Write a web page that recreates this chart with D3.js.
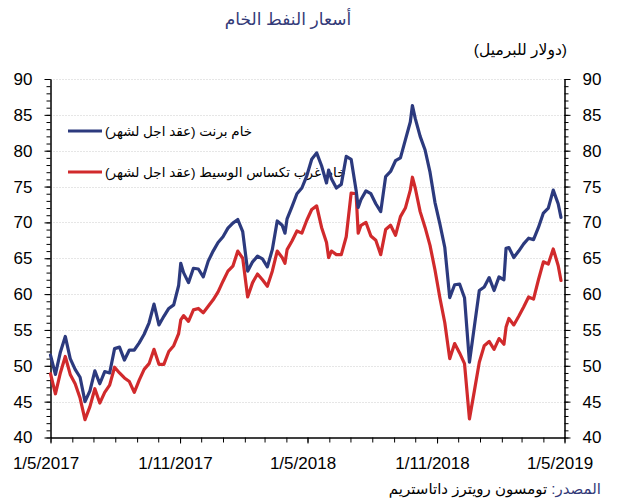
<!DOCTYPE html>
<html><head><meta charset="utf-8">
<script src="https://cdn.jsdelivr.net/npm/d3@7"></script>
<style>
body{margin:0;background:#fff}
svg{display:block}
text{font-family:"Liberation Sans",Arial,"DejaVu Sans",sans-serif}
</style>
</head><body><svg id="c" width="617" height="500"></svg>
<script>
// ---------- data ----------
const dates = [
"2017-05-01","2017-05-08","2017-05-15","2017-05-22","2017-05-29","2017-06-05","2017-06-12","2017-06-19","2017-06-26","2017-07-03",
"2017-07-10","2017-07-17","2017-07-24","2017-07-31","2017-08-07","2017-08-14","2017-08-21","2017-08-28","2017-09-04","2017-09-11",
"2017-09-18","2017-09-25","2017-10-02","2017-10-09","2017-10-16","2017-10-23","2017-10-30","2017-11-02","2017-11-06","2017-11-13","2017-11-20",
"2017-11-27","2017-12-04","2017-12-11","2017-12-18","2017-12-25","2018-01-01","2018-01-08","2018-01-15","2018-01-22","2018-01-29",
"2018-02-05","2018-02-12","2018-02-19","2018-02-26","2018-03-05","2018-03-12","2018-03-19","2018-03-26","2018-03-30","2018-04-02","2018-04-09",
"2018-04-16","2018-04-23","2018-04-30","2018-05-07","2018-05-14","2018-05-21","2018-05-28","2018-05-31","2018-06-04","2018-06-11","2018-06-18",
"2018-06-25","2018-07-02","2018-07-09","2018-07-12","2018-07-16","2018-07-23","2018-07-30","2018-08-06","2018-08-13","2018-08-20","2018-08-27",
"2018-09-03","2018-09-10","2018-09-17","2018-09-24",
"2018-09-27",
"2018-10-01","2018-10-08","2018-10-15","2018-10-22","2018-10-29","2018-11-05","2018-11-12","2018-11-19","2018-11-26","2018-12-03",
"2018-12-10","2018-12-17","2018-12-24","2018-12-31","2019-01-07","2019-01-14","2019-01-21","2019-01-28","2019-02-04","2019-02-07","2019-02-11",
"2019-02-18","2019-02-25","2019-03-04","2019-03-11","2019-03-18","2019-03-25","2019-04-01","2019-04-08","2019-04-15","2019-04-22",
"2019-04-26"
];
const brent = [
51.5,48.8,51.9,54.1,51.0,49.5,48.4,45.0,46.5,49.3,
47.5,49.2,49.0,52.4,52.6,50.8,52.2,52.2,53.2,54.4,
56.0,58.6,55.7,56.9,58.0,58.5,61.2,64.3,63.0,61.6,63.6,
63.5,62.4,64.6,66.0,67.2,68.0,69.2,69.9,70.4,68.7,
63.2,64.5,65.3,64.9,63.8,66.2,70.2,69.6,68.5,70.5,72.2,
74.0,74.8,76.5,78.8,79.7,77.9,75.5,77.3,76.1,74.8,75.3,
79.2,78.8,74.5,72.1,73.2,74.4,74.0,72.6,71.5,76.4,77.1,
78.6,79.0,81.5,84.0,
86.3,
84.5,82.0,80.1,77.0,72.8,69.8,66.5,59.5,61.3,61.4,
59.5,50.5,55.5,60.5,61.0,62.3,60.5,62.4,62.0,66.4,66.5,
65.1,66.0,67.0,67.8,67.6,69.3,71.3,72.0,74.5,72.6,
70.7
];
const wti = [
48.9,46.1,49.0,51.3,48.8,47.5,45.5,42.5,44.3,46.8,
44.8,46.3,47.3,49.8,49.0,48.3,47.8,46.3,48.0,49.5,
50.3,52.3,50.2,50.2,52.0,52.8,54.5,56.4,57.0,56.2,57.8,
58.0,57.4,58.3,59.2,60.3,61.8,63.2,63.9,66.0,65.0,
59.6,61.6,62.8,62.0,61.1,63.2,66.0,65.1,64.3,66.2,67.4,
68.8,68.5,70.3,71.8,72.3,69.3,67.2,65.1,66.0,65.5,65.5,
68.0,74.1,74.0,68.5,69.6,70.0,68.1,67.5,65.5,69.0,69.6,
68.2,70.8,72.0,74.5,
76.3,
74.8,71.5,69.3,66.8,63.4,59.5,56.0,51.0,53.1,51.8,
50.3,42.6,46.5,50.5,52.8,53.4,52.3,53.8,53.0,55.4,56.6,
55.7,56.9,58.2,59.6,59.3,62.0,64.5,64.2,66.3,64.0,
61.9
];
const yTicks = [40,45,50,55,60,65,70,75,80,85,90];
const xTickDates = ["2017-05-01","2017-11-01","2018-05-01","2018-11-01","2019-05-01"];
const xTickLabels = ["1/5/2017","1/11/2017","1/5/2018","1/11/2018","1/5/2019"];
const seriesNames = ["خام برنت (عقد اجل لشهر)","خام غرب تكساس الوسيط (عقد اجل لشهر)"];
const titleText = "أسعار النفط الخام";
const unitText = "(دولار للبرميل)";
const sourceLabel = "المصدر:";
const sourceText = " تومسون رويترز داتاستريم";

// ---------- setup ----------
const parse = d3.timeParse("%Y-%m-%d");
const svg = d3.select("#c");
const L = 50.5, R = 564.5, T = 79, B = 437.5;
const x = d3.scaleTime().domain([parse("2017-05-01"), parse("2019-05-01")]).range([L, R]);
const y = d3.scaleLinear().domain([40, 90]).range([B, T]);
const BLUE = "#2c3a7e", RED = "#d12a2c", NAVY = "#333a78";

// grid
svg.append("g").selectAll("line").data(yTicks.filter(v => v > 40)).join("line")
  .attr("x1", L).attr("x2", R).attr("y1", d => Math.round(y(d)) + 0.5).attr("y2", d => Math.round(y(d)) + 0.5)
  .attr("stroke", "#cccccc").attr("stroke-width", 1).attr("stroke-dasharray", "1,2");

// axes
function styleAxis(g, fs) {
  g.selectAll("path.domain").attr("stroke", "#000");
  g.selectAll(".tick line").attr("stroke", "#000");
  g.selectAll("text").attr("font-size", fs).attr("fill", "#000")
    .attr("font-family", "'Liberation Sans',Arial,sans-serif");
}
const minorY = d3.range(40, 91, 1);
svg.append("g").attr("transform", `translate(${L},0)`)
  .call(d3.axisLeft(y).tickValues(minorY).tickSize(4).tickSizeOuter(0).tickFormat(""))
  .call(g => styleAxis(g, 17));
svg.append("g").attr("transform", `translate(${L},0)`)
  .call(d3.axisLeft(y).tickValues(yTicks).tickSize(6).tickSizeOuter(0).tickPadding(12))
  .call(g => styleAxis(g, 17));
svg.append("g").attr("transform", `translate(${R},0)`)
  .call(d3.axisRight(y).tickValues(minorY).tickSize(4).tickSizeOuter(0).tickFormat(""))
  .call(g => styleAxis(g, 17));
svg.append("g").attr("transform", `translate(${R},0)`)
  .call(d3.axisRight(y).tickValues(yTicks).tickSize(6).tickSizeOuter(0).tickPadding(12))
  .call(g => styleAxis(g, 17));

svg.append("g").attr("transform", `translate(0,${B})`)
  .call(d3.axisBottom(x).ticks(d3.timeMonth.every(1)).tickSize(5).tickSizeOuter(0).tickFormat(""))
  .call(g => styleAxis(g, 17));
const xMaj = xTickDates.map(parse);
svg.append("g").attr("transform", `translate(0,${B})`)
  .call(d3.axisBottom(x).tickValues(xMaj).tickSize(6).tickSizeOuter(0).tickPadding(13)
        .tickFormat((d, i) => xTickLabels[i]))
  .call(g => styleAxis(g, 17))
  .call(g => g.selectAll("text").attr("dx", -5));

// RTL text helper using middle anchor + measured length
function rtl(str, px, py, size, color, anchor) {
  const t = svg.append("text").attr("direction", "rtl").attr("text-anchor", "middle")
    .attr("y", py).attr("font-size", size).attr("fill", color).text(str);
  const len = t.node().getComputedTextLength();
  let cx = px;
  if (anchor === "right") cx = px - len / 2;
  else if (anchor === "left") cx = px + len / 2;
  t.attr("x", cx);
  return t;
}

// title, unit
rtl(titleText, 288, 25, 17, NAVY, "center");
rtl(unitText, 567, 55, 15.5, "#000", "right");

// legend
const leg = [{c: BLUE, y: 131}, {c: RED, y: 172}];
leg.forEach((l, i) => {
  svg.append("line").attr("x1", 68).attr("x2", 102).attr("y1", l.y).attr("y2", l.y)
    .attr("stroke", l.c).attr("stroke-width", 3.2);
  rtl(seriesNames[i], 105, l.y + 5, 13.5, "#000", "left");
});

// series
const dd = dates.map(parse);
const line = d3.line().x((d, i) => x(dd[i])).y(d => y(d)).curve(d3.curveLinear);
svg.append("path").attr("d", line(wti)).attr("fill", "none").attr("stroke", RED)
  .attr("stroke-width", 3.2).attr("stroke-linejoin", "round").attr("stroke-linecap", "round");
svg.append("path").attr("d", line(brent)).attr("fill", "none").attr("stroke", BLUE)
  .attr("stroke-width", 3.2).attr("stroke-linejoin", "round").attr("stroke-linecap", "round");

// source
const src = svg.append("text").attr("direction", "rtl").attr("text-anchor", "middle")
  .attr("y", 494).attr("font-size", 15);
src.append("tspan").attr("fill", NAVY).text(sourceLabel);
src.append("tspan").attr("fill", "#000").text(sourceText);
const slen = src.node().getComputedTextLength();
src.attr("x", 601 - slen / 2);
</script>
</body></html>
